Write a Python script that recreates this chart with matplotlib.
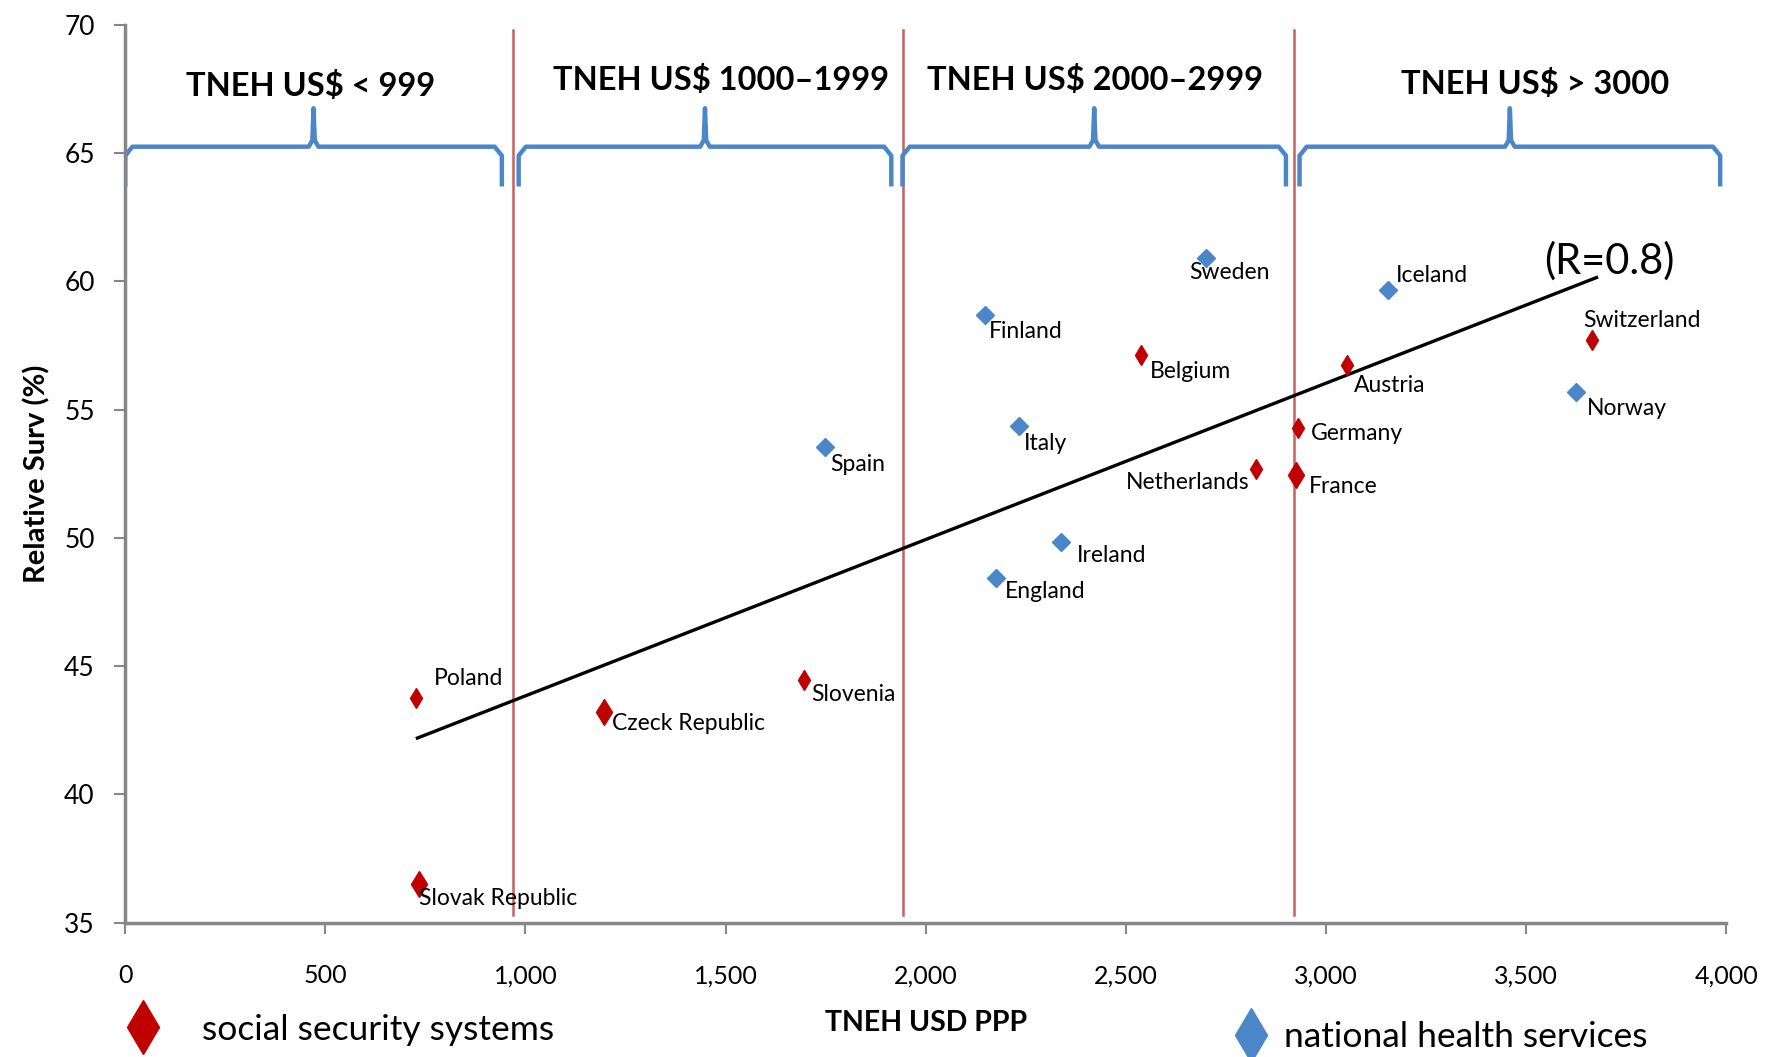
import numpy as np
import matplotlib
matplotlib.use("Agg")
import matplotlib.pyplot as plt
from matplotlib.lines import Line2D
from matplotlib.ticker import FuncFormatter

plt.rcParams['font.family'] = ['Lato', 'DejaVu Sans']

# social security systems (red)
ss_names = ["Poland", "Slovak Republic", "Czeck Republic", "Slovenia", "Belgium",
            "Netherlands", "Germany", "France", "Austria", "Switzerland"]
ss_x = [727, 733, 1195, 1697, 2537, 2824, 2931, 2926, 3052, 3664]
ss_y = [43.75, 36.5, 43.2, 44.45, 57.15, 52.7, 54.3, 52.45, 56.75, 57.7]

# national health services (blue)
nhs_names = ["Sweden", "Iceland", "Finland", "Italy", "Spain", "Ireland", "England", "Norway"]
nhs_x = [2700, 3154, 2148, 2232, 1748, 2339, 2176, 3625]
nhs_y = [60.9, 59.65, 58.7, 54.35, 53.55, 49.85, 48.45, 55.7]

# trend line end points
trend_x = [730, 3676]
trend_y = [42.2, 60.15]

# spending bands
band_labels = ["TNEH US$ < 999", "TNEH US$ 1000\u20131999", "TNEH US$ 2000\u20132999", "TNEH US$ > 3000"]
band_spans = [(0, 941), (983, 1914), (1942, 2900), (2934, 3985)]
band_label_x = [462, 1488, 2424, 3523]
band_label_y = [67.6, 67.85, 67.85, 67.7]
divider_x = [970, 1942, 2920]

x_ticks = [0, 500, 1000, 1500, 2000, 2500, 3000, 3500, 4000]
y_ticks = [35, 40, 45, 50, 55, 60, 65, 70]

RED = "#c00000"
BLUE = "#4a86c8"
VRED = "#c0504d"
GRAY = "#868686"

# label offsets (points) relative to each marker
ss_off = {"Poland": (13, 14, "left"), "Slovak Republic": (0, -10, "left"),
          "Czeck Republic": (6, -8, "left"), "Slovenia": (5, -10, "left"),
          "Belgium": (7, -12, "left"), "Netherlands": (-4, -10, "right"),
          "Germany": (9, -4, "left"), "France": (9, -8, "left"),
          "Austria": (5, -15, "left"), "Switzerland": (-6, 14, "left")}
nhs_off = {"Sweden": (-12, -10, "left"), "Iceland": (6, 11, "left"),
           "Finland": (3, -12, "left"), "Italy": (4, -12, "left"),
           "Spain": (4, -13, "left"), "Ireland": (11, -10, "left"),
           "England": (6, -10, "left"), "Norway": (8, -12, "left")}
big_red = {"Slovak Republic", "Czeck Republic", "France"}

fig = plt.figure(figsize=(17.69, 10.57), dpi=100)
ax = fig.add_axes([0.0708, 0.127, 0.905, 0.8495])

for x0 in divider_x:
    ax.plot([x0, x0], [35.3, 69.8], color=VRED, lw=1.8, alpha=0.9, zorder=1)

ax.plot(trend_x, trend_y, color="black", lw=2.4, zorder=2)

for n, x, y in zip(ss_names, ss_x, ss_y):
    ms = 13 if n in big_red else 10
    ax.plot(x, y, marker="d", color=RED, ms=ms, mec=RED, zorder=3)
    dx, dy, ha = ss_off[n]
    ax.annotate(n, (x, y), xytext=(dx, dy), textcoords="offset points",
                ha=ha, va="center", fontsize=16.5)

for n, x, y in zip(nhs_names, nhs_x, nhs_y):
    ax.plot(x, y, marker="D", color=BLUE, ms=9.5, mec=BLUE, zorder=3)
    dx, dy, ha = nhs_off[n]
    ax.annotate(n, (x, y), xytext=(dx, dy), textcoords="offset points",
                ha=ha, va="center", fontsize=16.5)

# curly brackets over each band
y_bar, y_end, y_tip = 65.25, 63.7, 66.75
for (x0, x1), lab, lx, ly in zip(band_spans, band_labels, band_label_x, band_label_y):
    xc = (x0 + x1) / 2
    bx = [x0, x0, x0 + 18, xc - 12, xc - 3, xc, xc + 3, xc + 12, x1 - 18, x1, x1]
    by = [y_end, y_bar - 0.35, y_bar, y_bar, y_bar + 0.25, y_tip, y_bar + 0.25, y_bar, y_bar, y_bar - 0.35, y_end]
    ax.plot(bx, by, color=BLUE, lw=3.2, solid_capstyle="butt", solid_joinstyle="round", zorder=2)
    ax.text(lx, ly, lab, ha="center", va="center", fontsize=23.5, fontweight="bold")

ax.text(3709, 60.8, "(R=0.8)", ha="center", va="center", fontsize=30)

ax.set_xlim(0, 4000)
ax.set_ylim(35, 70)
ax.set_xticks(x_ticks)
ax.set_yticks(y_ticks)
ax.xaxis.set_major_formatter(FuncFormatter(lambda v, p: f"{int(v):,}"))
for s in ["top", "right"]:
    ax.spines[s].set_visible(False)
for s in ["left", "bottom"]:
    ax.spines[s].set_color(GRAY)
    ax.spines[s].set_linewidth(2.5)
ax.tick_params(axis="x", length=8, width=1.5, color=GRAY, labelsize=18, pad=22)
ax.tick_params(axis="y", length=8, width=1.5, color=GRAY, labelsize=19, pad=14)
ax.set_ylabel("Relative Surv (%)", fontsize=21, fontweight="bold", labelpad=10)
ax.set_xlabel("TNEH USD PPP", fontsize=20.5, fontweight="bold", labelpad=16)

h1 = [Line2D([], [], marker="d", color=RED, ls="", ms=28)]
h2 = [Line2D([], [], marker="d", color=BLUE, ls="", ms=28)]
leg1 = fig.legend(h1, ["social security systems"], loc="center left",
                  bbox_to_anchor=(0.048, 0.026), frameon=False, fontsize=25.5,
                  handletextpad=0.9, handlelength=1.5)
leg2 = fig.legend(h2, ["national health services"], loc="center left",
                  bbox_to_anchor=(0.674, 0.019), frameon=False, fontsize=25.5,
                  handletextpad=0.2, handlelength=1.5)

fig.savefig("out.png", dpi=100)
